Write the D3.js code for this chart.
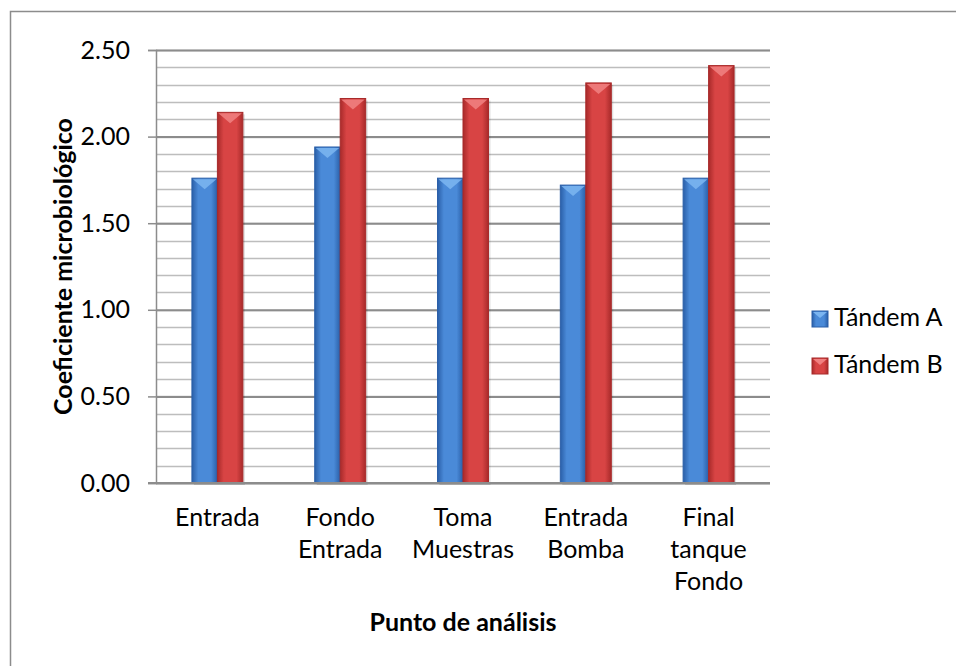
<!DOCTYPE html>
<html>
<head>
<meta charset="utf-8">
<script src="https://cdn.jsdelivr.net/npm/d3@7"></script>
<style>
  body { margin: 0; background: #fff; }
  text { font-family: Lato, "Open Sans", sans-serif; fill: #000; }
</style>
</head>
<body>
<svg width="956" height="666"></svg>
<script>
const categories = [["Entrada"], ["Fondo", "Entrada"], ["Toma", "Muestras"], ["Entrada", "Bomba"], ["Final", "tanque", "Fondo"]]
const series = ["Tándem A", "Tándem B"]
const tandemA = [1.76, 1.94, 1.76, 1.72, 1.76]
const tandemB = [2.14, 2.22, 2.22, 2.31, 2.41]
const yTicks = [0, 0.5, 1, 1.5, 2, 2.5]

const svg = d3.select("svg")
const plotL = 156, plotR = 770, plotT = 50, plotB = 483
const fs = 25
const colors = {"Tándem A": ["#2a5fa8", "#4a8ad8", "#7ab4f0"], "Tándem B": ["#a82a2a", "#d84444", "#f08080"]}

// outer frame
svg.append("rect").attr("x", 10.5).attr("y", 11.5).attr("width", 1000).attr("height", 1000)
  .attr("fill", "none").attr("stroke", "#8c8c8c").attr("stroke-width", 1.5)

const defs = svg.append("defs")
series.forEach((s, i) => {
  const g = defs.append("linearGradient").attr("id", "grad" + i).attr("x1", 0).attr("x2", 1).attr("y1", 0).attr("y2", 0)
  g.append("stop").attr("offset", "0%").attr("stop-color", colors[s][0])
  g.append("stop").attr("offset", "25%").attr("stop-color", colors[s][1])
  g.append("stop").attr("offset", "75%").attr("stop-color", colors[s][1])
  g.append("stop").attr("offset", "100%").attr("stop-color", colors[s][0])
})

const y = d3.scaleLinear().domain([0, 2.5]).range([plotB, plotT])
const x0 = d3.scaleBand().domain(d3.range(categories.length)).range([plotL, plotR]).paddingInner(0.585).paddingOuter(0.2925)
const x1 = d3.scaleBand().domain(series).range([0, x0.bandwidth()])

// minor gridlines
svg.append("g").selectAll("line").data(d3.range(0, 26).map(v => v / 10))
  .join("line")
  .attr("x1", plotL).attr("x2", plotR)
  .attr("y1", d => Math.round(y(d)) + 0.5).attr("y2", d => Math.round(y(d)) + 0.5)
  .attr("stroke", "#bdbdbd").attr("stroke-width", 1.5)

// major gridlines + y axis
const yAxis = d3.axisLeft(y).tickValues(yTicks).tickFormat(d3.format(".2f")).tickSize(8).tickPadding(18)
const yg = svg.append("g").attr("transform", `translate(${plotL},0)`).call(yAxis)
yg.select(".domain").attr("stroke", "#8c8c8c").attr("stroke-width", 1.5)
yg.selectAll(".tick line").attr("stroke", "#8c8c8c").attr("stroke-width", 1.5)
yg.selectAll(".tick text").attr("font-size", fs).attr("font-family", "Lato").attr("fill", "#000")
yg.selectAll(".tick").append("line").attr("x1", 0).attr("x2", plotR - plotL).attr("stroke", "#8c8c8c").attr("stroke-width", 2)

// bars
const groups = svg.append("g").selectAll("g").data(categories).join("g")
  .attr("transform", (d, i) => `translate(${x0(i)},0)`)

groups.each(function(d, i) {
  const g = d3.select(this)
  const vals = [tandemA[i], tandemB[i]]
  series.forEach((s, j) => {
    const bx = x1(s), bw = x1.bandwidth(), by = y(vals[j])
    g.append("rect").attr("x", bx + 2).attr("y", by + 2).attr("width", bw).attr("height", plotB - by)
      .attr("fill", "#000").attr("opacity", 0.12)
    g.append("rect").attr("x", bx).attr("y", by).attr("width", bw).attr("height", plotB - by)
      .attr("fill", `url(#grad${j})`).attr("stroke", colors[s][0]).attr("stroke-width", 1)
    g.append("path")
      .attr("d", `M${bx + 1},${by + 1} L${bx + bw - 1},${by + 1} L${bx + bw / 2},${by + 11} Z`)
      .attr("fill", colors[s][2]).attr("opacity", 0.9)
  })
})

// baseline
svg.append("line").attr("x1", plotL - 8).attr("x2", plotR).attr("y1", plotB).attr("y2", plotB)
  .attr("stroke", "#8c8c8c").attr("stroke-width", 2)

// category labels
svg.append("g").selectAll("text").data(categories).join("text")
  .attr("x", (d, i) => x0(i) + x0.bandwidth() / 2)
  .attr("y", 526)
  .attr("text-anchor", "middle").attr("font-size", fs)
  .each(function(d) {
    d3.select(this).selectAll("tspan").data(d).join("tspan")
      .attr("x", d3.select(this).attr("x")).attr("dy", (t, k) => k === 0 ? 0 : 32).text(t => t)
  })

// axis titles
svg.append("text").attr("x", (plotL + plotR) / 2).attr("y", 631).attr("text-anchor", "middle")
  .attr("font-size", fs).attr("font-weight", "bold").text("Punto de análisis")
svg.append("text").attr("transform", `translate(72,${(plotT + plotB) / 2}) rotate(-90)`)
  .attr("text-anchor", "middle").attr("font-size", fs).attr("font-weight", "bold").text("Coeficiente microbiológico")

// legend
const leg = svg.append("g").selectAll("g").data(series).join("g")
  .attr("transform", (d, i) => `translate(812,${311 + i * 47})`)
leg.append("rect").attr("width", 16).attr("height", 16).attr("fill", (d, i) => `url(#grad${i})`)
  .attr("stroke", d => colors[d][0])
leg.append("path").attr("d", "M1,1 L15,1 L8,7 Z").attr("fill", d => colors[d][2])
leg.append("text").attr("x", 22).attr("y", 15).attr("font-size", fs).text(d => d)
</script>
</body>
</html>
